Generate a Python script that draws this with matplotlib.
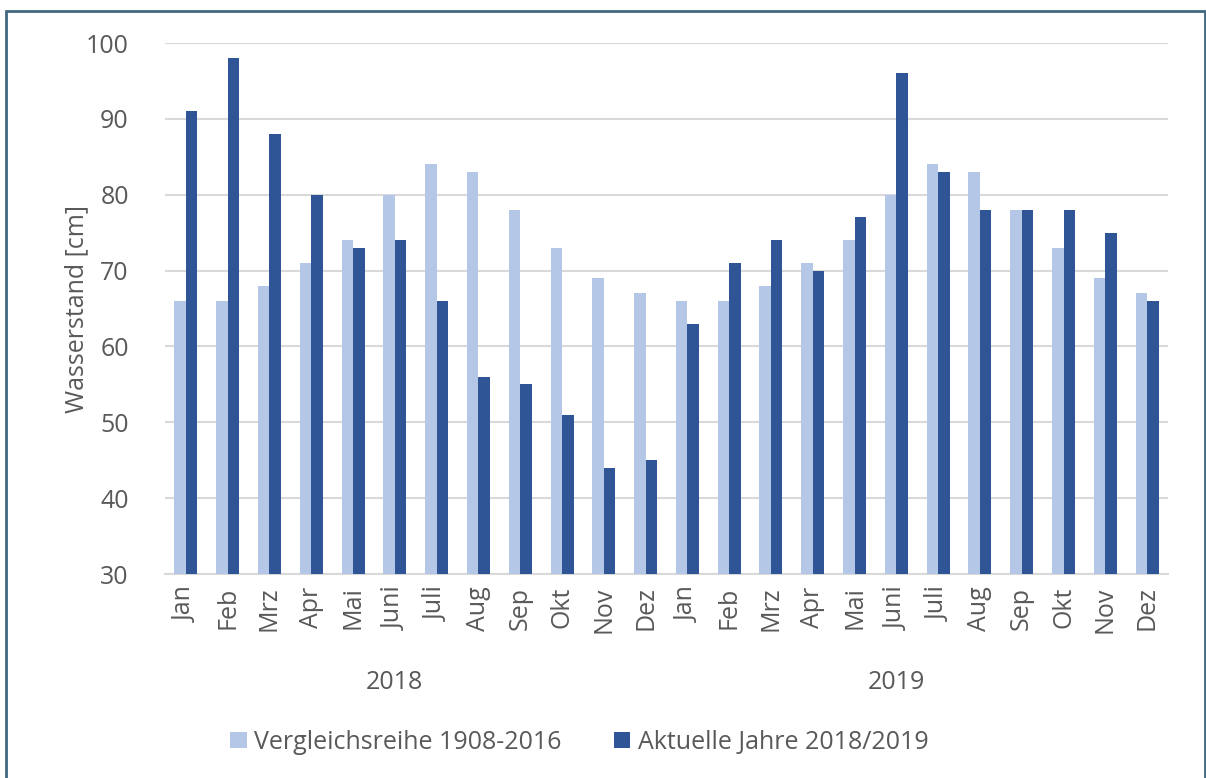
'''Wasserstand: Vergleichsreihe vs. aktuelle Jahre 2018/2019.'''

import numpy as np
import matplotlib.pyplot as plt
from matplotlib.patches import Rectangle

months = ['Jan', 'Feb', 'Mrz', 'Apr', 'Mai', 'Juni', 'Juli', 'Aug', 'Sep', 'Okt', 'Nov', 'Dez']
years = ['2018', '2019']
vergleich = [66, 66, 68, 71, 74, 80, 84, 83, 78, 73, 69, 67,
             66, 66, 68, 71, 74, 80, 84, 83, 78, 73, 69, 67]
aktuell = [91, 98, 88, 80, 73, 74, 66, 56, 55, 51, 44, 45,
           63, 71, 74, 70, 77, 96, 83, 78, 78, 78, 75, 66]
yticks = [30, 40, 50, 60, 70, 80, 90, 100]

light = '#B4C7E7'
dark = '#2F5597'
text_col = '#595959'
grid_col = '#D9D9D9'
fs = 18

plt.rcParams['font.family'] = ['Open Sans', 'DejaVu Sans']

fig = plt.figure(figsize=(12.06, 7.78), dpi=100)
ax = fig.add_axes([0.1368, 0.2622, 0.8317, 0.6825])

x = np.arange(len(vergleich))
w = 0.275
ax.bar(x - w / 2, vergleich, w, color=light, label='Vergleichsreihe 1908-2016', zorder=3)
ax.bar(x + w / 2, aktuell, w, color=dark, label='Aktuelle Jahre 2018/2019', zorder=3)

ax.set_xlim(-0.5, len(x) - 0.5)
ax.set_ylim(30, 100)
ax.set_yticks(yticks)
ax.set_xticks(x)
ax.set_xticklabels(months * 2, rotation=90)
ax.tick_params(axis='both', length=0, labelsize=fs, colors=text_col)
ax.tick_params(axis='x', pad=9)
ax.tick_params(axis='y', pad=26)
ax.yaxis.grid(True, color=grid_col, linewidth=1.5, zorder=0)
for s in ['top', 'right', 'left']:
    ax.spines[s].set_visible(False)
ax.spines['bottom'].set_color(grid_col)
ax.spines['bottom'].set_linewidth(1.5)
ax.set_ylabel('Wasserstand [cm]', fontsize=fs, color=text_col, labelpad=-2)

# year labels under the month groups
for i, yr in enumerate(years):
    ax.text(5 + 12 * i, -0.205, yr, transform=ax.get_xaxis_transform(),
            ha='center', va='center', fontsize=fs, color=text_col)

fig.legend(loc='center', bbox_to_anchor=(0.4805, 0.046), ncol=2, frameon=False,
           fontsize=fs, handlelength=0.65, handleheight=0.65, handletextpad=0.3,
           columnspacing=2.1, labelcolor=text_col)

# outer frame
fig.patches.append(Rectangle((6 / 1206, -0.05), 1198.5 / 1206, 1.05 - 11 / 778,
                             transform=fig.transFigure, fill=False,
                             edgecolor='#41687F', linewidth=2))

fig.savefig('out.png', dpi=100)
